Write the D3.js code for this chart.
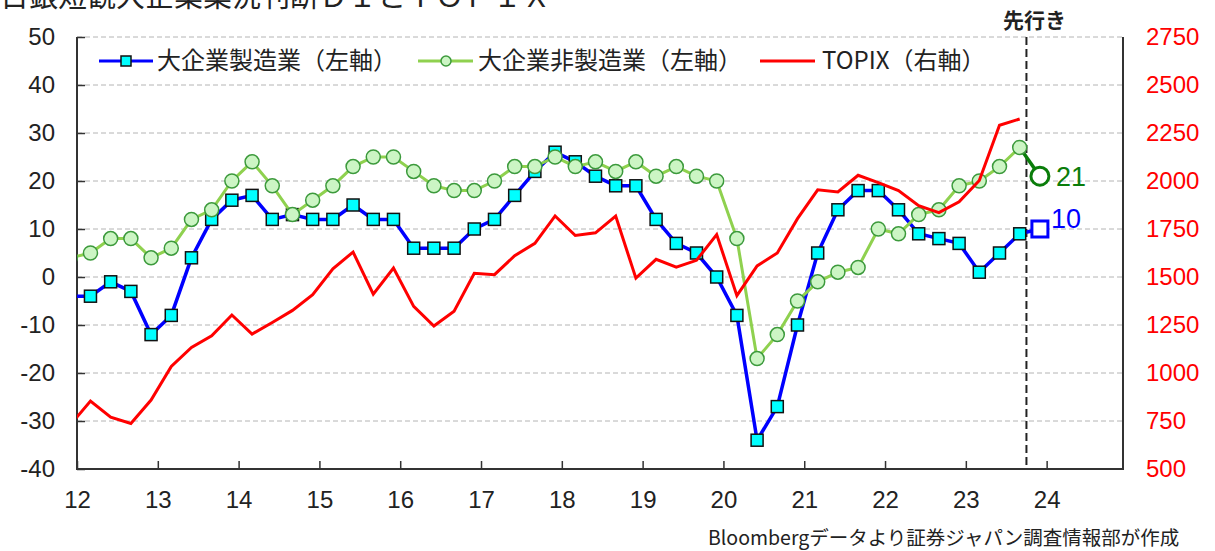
<!DOCTYPE html>
<html>
<head>
<meta charset="utf-8">
<script src="https://cdn.jsdelivr.net/npm/d3@7"></script>
<style>
  body { margin: 0; background: #fff; }
  svg { display: block; }
  .jp { font-family: "Noto Sans CJK JP", "Noto Sans", sans-serif; }
  .num { font-family: "Liberation Sans", Arial, sans-serif; }
</style>
</head>
<body>
<div id="chart"></div>
<script>
// quarters: Dec 2011 ... Sep 2023 (Tankan survey months)
var quarters = [
    "2011-12",
    "2012-03", "2012-06", "2012-09", "2012-12",
    "2013-03", "2013-06", "2013-09", "2013-12",
    "2014-03", "2014-06", "2014-09", "2014-12",
    "2015-03", "2015-06", "2015-09", "2015-12",
    "2016-03", "2016-06", "2016-09", "2016-12",
    "2017-03", "2017-06", "2017-09", "2017-12",
    "2018-03", "2018-06", "2018-09", "2018-12",
    "2019-03", "2019-06", "2019-09", "2019-12",
    "2020-03", "2020-06", "2020-09", "2020-12",
    "2021-03", "2021-06", "2021-09", "2021-12",
    "2022-03", "2022-06", "2022-09", "2022-12",
    "2023-03", "2023-06", "2023-09"
];

// 大企業製造業 DI (left axis)
var mfg = [
    -4,
    -4, -1, -3, -12,
    -8, 4, 12, 16,
    17, 12, 13, 12,
    12, 15, 12, 12,
    6, 6, 6, 10,
    12, 17, 22, 26,
    24, 21, 19, 19,
    12, 7, 5, 0,
    -8, -34, -27, -10,
    5, 14, 18, 18,
    14, 9, 8, 7,
    1, 5, 9
];

// 大企業非製造業 DI (left axis)
var nonMfg = [
    4,
    5, 8, 8, 4,
    6, 12, 14, 20,
    24, 19, 13, 16,
    19, 23, 25, 25,
    22, 19, 18, 18,
    20, 23, 23, 25,
    23, 24, 22, 24,
    21, 23, 21, 20,
    8, -17, -12, -5,
    -1, 1, 2, 10,
    9, 13, 14, 19,
    20, 23, 27
];

// TOPIX (right axis)
var topix = [
    729,
    854, 770, 737, 859,
    1034, 1133, 1194, 1302,
    1203, 1263, 1326, 1408,
    1543, 1630, 1411, 1547,
    1347, 1245, 1322, 1519,
    1512, 1611, 1675, 1818,
    1716, 1730, 1817, 1494,
    1592, 1551, 1587, 1721,
    1403, 1558, 1625, 1804,
    1954, 1943, 2030, 1992,
    1950, 1871, 1835, 1892,
    2003, 2290, 2323
];

// 先行き (Dec 2023 forecast)
var forecastQuarter = "2023-12";
var forecastMfg = 10;
var forecastNonMfg = 21;
var forecastStart = "2023-10";

var yearTicks = [2012, 2013, 2014, 2015, 2016, 2017, 2018, 2019, 2020, 2021, 2022, 2023, 2024];
var leftTicks = [-40, -30, -20, -10, 0, 10, 20, 30, 40, 50];
var rightTicks = [500, 750, 1000, 1250, 1500, 1750, 2000, 2250, 2500, 2750];

var seriesNames = ["大企業製造業（左軸）", "大企業非製造業（左軸）", "TOPIX（右軸）"];

var w = 1215;
var h = 551;
var plotLeft = 77, plotRight = 1123, plotTop = 37, plotBottom = 469;

var toYear = function(q) {
    return parseInt(q.substring(0, 4)) + (parseInt(q.substring(5, 7)) - 1) / 12;
};
var plain = function(d) { return String(d); };

var xscale = d3.scaleLinear().domain([2012, 2024.945]).range([plotLeft, plotRight]);
var yscale = d3.scaleLinear().domain([-40, 50]).range([plotBottom, plotTop]);
var y2scale = d3.scaleLinear().domain([500, 2750]).range([plotBottom, plotTop]);

var svg = d3.select("#chart").append("svg")
    .attr("width", w)
    .attr("height", h);

svg.append("defs").append("clipPath")
    .attr("id", "plotclip")
    .append("rect")
    .attr("x", plotLeft).attr("y", plotTop - 10)
    .attr("width", plotRight - plotLeft).attr("height", plotBottom - plotTop + 20);

// title (cut by the top edge)
svg.append("text")
    .attr("class", "jp")
    .attr("x", 0)
    .attr("y", 7)
    .attr("font-size", 29)
    .attr("fill", "#222")
    .text("日銀短観大企業業況判断ＤＩとＴＯＰＩＸ");

// grid
svg.append("g").selectAll("line")
    .data(leftTicks.filter(function(d) { return d > -40; }))
    .enter().append("line")
    .attr("x1", plotLeft).attr("x2", plotRight)
    .attr("y1", function(d) { return yscale(d); })
    .attr("y2", function(d) { return yscale(d); })
    .attr("stroke", "#b4b4b4")
    .attr("stroke-width", 1)
    .attr("stroke-dasharray", "5,3");

// left axis
var yaxis = d3.axisLeft(yscale).tickValues(leftTicks).tickFormat(plain).tickSize(0).tickPadding(22);
var gy = svg.append("g")
    .attr("transform", "translate(" + plotLeft + ",0)")
    .call(yaxis);
gy.select(".domain").remove();
gy.selectAll("text").attr("font-size", 24).attr("fill", "#222").attr("font-family", "Liberation Sans, Arial, sans-serif");
gy.selectAll(".tick").append("line")
    .attr("x1", 0).attr("x2", 8)
    .attr("stroke", "#333").attr("stroke-width", 1.5);

// right axis labels
var y2axis = d3.axisRight(y2scale).tickValues(rightTicks).tickFormat(plain).tickSize(0).tickPadding(23);
var gy2 = svg.append("g")
    .attr("transform", "translate(" + plotRight + ",0)")
    .call(y2axis);
gy2.select(".domain").remove();
gy2.selectAll("text").attr("font-size", 24).attr("fill", "#ff0000").attr("font-family", "Liberation Sans, Arial, sans-serif");

// bottom axis
var xaxis = d3.axisBottom(xscale).tickValues(yearTicks).tickSize(0).tickPadding(22)
    .tickFormat(function(d) { return String(d).substring(2); });
var gx = svg.append("g")
    .attr("transform", "translate(0," + plotBottom + ")")
    .call(xaxis);
gx.select(".domain").remove();
gx.selectAll("text").attr("font-size", 24).attr("fill", "#222").attr("font-family", "Liberation Sans, Arial, sans-serif");
gx.selectAll(".tick").append("line")
    .attr("y1", 0).attr("y2", -8)
    .attr("stroke", "#333").attr("stroke-width", 1.5);

// frame: left, bottom, right
svg.append("path")
    .attr("d", "M" + plotLeft + "," + plotTop + "V" + plotBottom + "H" + plotRight + "V" + plotTop)
    .attr("fill", "none")
    .attr("stroke", "#333")
    .attr("stroke-width", 2);

// 先行き divider
svg.append("line")
    .attr("x1", xscale(toYear(forecastStart))).attr("x2", xscale(toYear(forecastStart)))
    .attr("y1", plotTop).attr("y2", plotBottom)
    .attr("stroke", "#222")
    .attr("stroke-width", 2)
    .attr("stroke-dasharray", "8,4");

svg.append("text")
    .attr("class", "jp")
    .attr("x", xscale(toYear(forecastStart)) + 8)
    .attr("y", 28)
    .attr("text-anchor", "middle")
    .attr("font-size", 21)
    .attr("font-weight", "bold")
    .attr("fill", "#222")
    .text("先行き");

var plot = svg.append("g").attr("clip-path", "url(#plotclip)");

var lineLeft = d3.line()
    .x(function(d, i) { return xscale(toYear(quarters[i])); })
    .y(function(d) { return yscale(d); });
var lineRight = d3.line()
    .x(function(d, i) { return xscale(toYear(quarters[i])); })
    .y(function(d) { return y2scale(d); });

var last = quarters.length - 1;

// forecast connectors
plot.append("line")
    .attr("x1", xscale(toYear(quarters[last]))).attr("y1", yscale(mfg[last]))
    .attr("x2", xscale(toYear(forecastQuarter))).attr("y2", yscale(forecastMfg))
    .attr("stroke", "#0000ff").attr("stroke-width", 3.5);
plot.append("line")
    .attr("x1", xscale(toYear(quarters[last]))).attr("y1", yscale(nonMfg[last]))
    .attr("x2", xscale(toYear(forecastQuarter))).attr("y2", yscale(forecastNonMfg))
    .attr("stroke", "#0a7d0a").attr("stroke-width", 3.5);

// manufacturing
plot.append("path")
    .datum(mfg)
    .attr("d", lineLeft)
    .attr("fill", "none")
    .attr("stroke", "#0000ff")
    .attr("stroke-width", 3.5);

plot.append("g").selectAll("rect")
    .data(mfg)
    .enter().append("rect")
    .attr("x", function(d, i) { return xscale(toYear(quarters[i])) - 6; })
    .attr("y", function(d) { return yscale(d) - 6; })
    .attr("width", 12).attr("height", 12)
    .attr("fill", "#00ffff")
    .attr("stroke", "#111")
    .attr("stroke-width", 1.5);

// non-manufacturing
plot.append("path")
    .datum(nonMfg)
    .attr("d", lineLeft)
    .attr("fill", "none")
    .attr("stroke", "#8fd14f")
    .attr("stroke-width", 3);

plot.append("g").selectAll("circle")
    .data(nonMfg)
    .enter().append("circle")
    .attr("cx", function(d, i) { return xscale(toYear(quarters[i])); })
    .attr("cy", function(d) { return yscale(d); })
    .attr("r", 7)
    .attr("fill", "#ccf5c4")
    .attr("stroke", "#3c9a3c")
    .attr("stroke-width", 1.5);

// TOPIX
plot.append("path")
    .datum(topix)
    .attr("d", lineRight)
    .attr("fill", "none")
    .attr("stroke", "#ff0000")
    .attr("stroke-width", 3);

// forecast markers
var fx = xscale(toYear(forecastQuarter));
svg.append("rect")
    .attr("x", fx - 8).attr("y", yscale(forecastMfg) - 8)
    .attr("width", 16).attr("height", 16)
    .attr("fill", "#fff")
    .attr("stroke", "#0000ff")
    .attr("stroke-width", 3);
svg.append("text")
    .attr("class", "num")
    .attr("x", fx + 11).attr("y", yscale(forecastMfg) - 1)
    .attr("font-size", 27)
    .attr("fill", "#0000ff")
    .text(forecastMfg);

svg.append("circle")
    .attr("cx", fx).attr("cy", yscale(forecastNonMfg))
    .attr("r", 9)
    .attr("fill", "#fff")
    .attr("stroke", "#0a7d0a")
    .attr("stroke-width", 3);
svg.append("text")
    .attr("class", "num")
    .attr("x", fx + 16).attr("y", yscale(forecastNonMfg) + 10)
    .attr("font-size", 27)
    .attr("fill", "#0a7d0a")
    .text(forecastNonMfg);

// legend
var legend = svg.append("g").attr("class", "jp");
var ly = 61;

legend.append("line").attr("x1", 99).attr("x2", 153).attr("y1", ly).attr("y2", ly)
    .attr("stroke", "#0000ff").attr("stroke-width", 3);
legend.append("rect").attr("x", 121).attr("y", ly - 5).attr("width", 10).attr("height", 10)
    .attr("fill", "#00ffff").attr("stroke", "#111").attr("stroke-width", 1.5);
legend.append("text").attr("x", 157).attr("y", ly + 8).attr("font-size", 24).attr("fill", "#222")
    .text(seriesNames[0]);

legend.append("line").attr("x1", 418).attr("x2", 473).attr("y1", ly).attr("y2", ly)
    .attr("stroke", "#8fd14f").attr("stroke-width", 3);
legend.append("circle").attr("cx", 446).attr("cy", ly).attr("r", 5)
    .attr("fill", "#ccf5c4").attr("stroke", "#3c9a3c").attr("stroke-width", 1.5);
legend.append("text").attr("x", 478).attr("y", ly + 8).attr("font-size", 24).attr("fill", "#222")
    .text(seriesNames[1]);

legend.append("line").attr("x1", 760).attr("x2", 815).attr("y1", ly).attr("y2", ly)
    .attr("stroke", "#ff0000").attr("stroke-width", 3);
legend.append("text").attr("x", 822).attr("y", ly + 8).attr("font-size", 24).attr("fill", "#222")
    .text(seriesNames[2]);

// source note
svg.append("text")
    .attr("class", "jp")
    .attr("x", 708)
    .attr("y", 545)
    .attr("font-size", 19.5)
    .attr("fill", "#222")
    .text("Bloombergデータより証券ジャパン調査情報部が作成");
</script>
</body>
</html>
